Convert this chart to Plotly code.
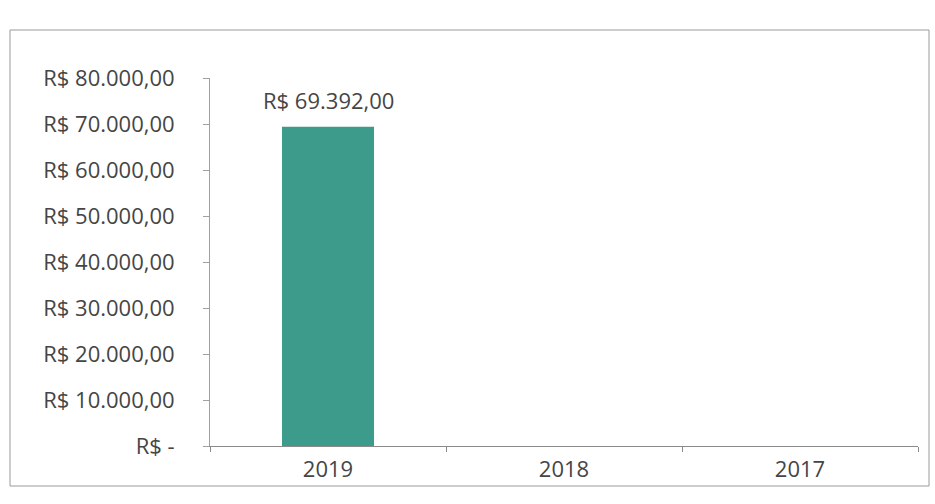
import plotly.graph_objects as go

# Annual totals (R$)
years = ["2019", "2018", "2017"]
values = [69392.00, 0, 0]

# Value axis ticks
y_ticks = [0, 10000, 20000, 30000, 40000, 50000, 60000, 70000, 80000]


def brl(v):
    """Format a number as Brazilian currency, Excel-style (zero shown as a dash)."""
    if v == 0:
        return "R$ -"
    s = f"{v:,.2f}"
    s = s.replace(",", "X").replace(".", ",").replace("X", ".")
    return "R$ " + s


y_ticktext = [brl(v) for v in y_ticks]

W, H = 935, 504
L, R, T, B = 210, 17, 78, 58

FONT = "Open Sans"
TEXT_COLOR = "#454545"
BAR_COLOR = "#3d9b8c"

fig = go.Figure()
fig.add_trace(go.Bar(
    x=years,
    y=values,
    marker=dict(color=BAR_COLOR, line=dict(width=0)),
    width=0.39,
    hoverinfo="skip",
))

# Value label above the non-zero bar (x given as category index)
for i, v in enumerate(values):
    if v:
        fig.add_annotation(
            x=i, y=v, text=brl(v), showarrow=False,
            yanchor="bottom", yshift=10,
            font=dict(family=FONT, size=22, color=TEXT_COLOR),
        )


def px_to_paper_x(px):
    return (px - L) / (W - L - R)


def px_to_paper_y(py):
    return (H - B - py) / (H - T - B)


# Chart area border
fig.add_shape(
    type="rect", xref="paper", yref="paper",
    x0=px_to_paper_x(10), x1=px_to_paper_x(929),
    y0=px_to_paper_y(486), y1=px_to_paper_y(30),
    line=dict(color="#9a9a9a", width=1),
    fillcolor="rgba(0,0,0,0)", layer="below",
)

fig.update_layout(
    width=W, height=H,
    margin=dict(l=L, r=R, t=T, b=B),
    paper_bgcolor="white",
    plot_bgcolor="white",
    showlegend=False,
    font=dict(family=FONT, size=22, color=TEXT_COLOR),
    xaxis=dict(
        type="category",
        categoryorder="array", categoryarray=years,
        range=[-0.5, len(years) - 0.5],
        automargin=False,
        tickangle=0,
        showline=True, linecolor="#8a8a8a", linewidth=1,
        ticks="outside", tickson="boundaries", ticklen=5, tickcolor="#8a8a8a",
        showgrid=False, zeroline=False,
        tickfont=dict(family=FONT, size=22, color=TEXT_COLOR),
        ticklabelstandoff=4,
    ),
    yaxis=dict(
        range=[0, 80000],
        automargin=False,
        tickvals=y_ticks, ticktext=y_ticktext,
        showline=True, linecolor="#a0a0a0", linewidth=1,
        ticks="outside", ticklen=6, tickcolor="#a0a0a0",
        showgrid=False, zeroline=False,
        tickfont=dict(family=FONT, size=22, color=TEXT_COLOR),
        ticklabelstandoff=24,
    ),
)

fig.write_html("out.html")
